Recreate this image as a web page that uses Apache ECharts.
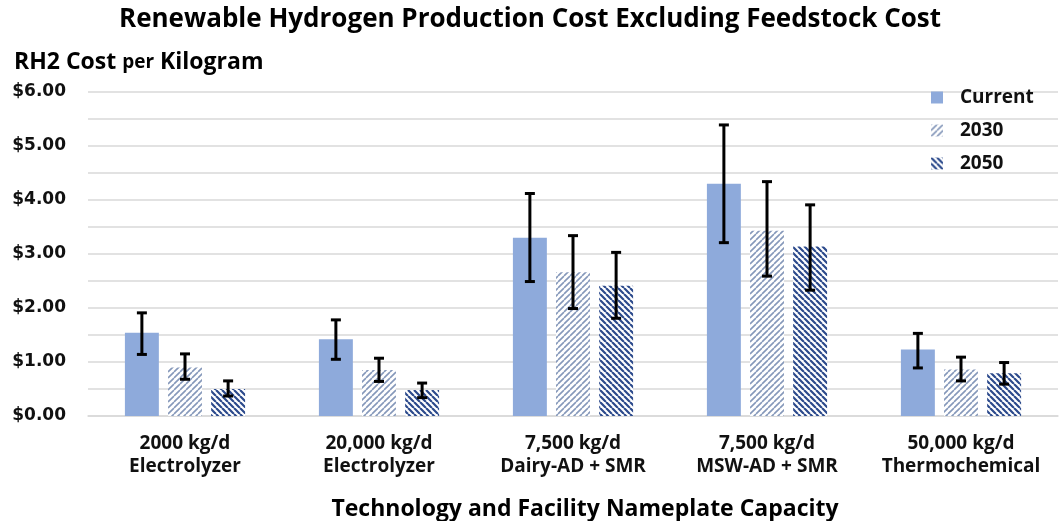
<!DOCTYPE html>
<html>
<head>
<meta charset="utf-8">
<script src="https://cdn.jsdelivr.net/npm/echarts@6/dist/echarts.min.js"></script>
<style>
  html, body { margin: 0; padding: 0; background: #fff; }
  #chart { width: 1060px; height: 521px; }
</style>
</head>
<body>
<div id="chart"></div>
<script>
// ---------- data ----------
const categories = [
  '2000 kg/d\nElectrolyzer',
  '20,000 kg/d\nElectrolyzer',
  '7,500 kg/d\nDairy-AD + SMR',
  '7,500 kg/d\nMSW-AD + SMR',
  '50,000 kg/d\nThermochemical'
];
const seriesNames = ['Current', '2030', '2050'];
const currentCost = [1.54, 1.42, 3.30, 4.30, 1.23];
const cost2030 = [0.90, 0.85, 2.66, 3.43, 0.86];
const cost2050 = [0.50, 0.48, 2.41, 3.14, 0.79];
// error bar ranges (low, high)
const currentLow = [1.14, 1.05, 2.49, 3.21, 0.89];
const currentHigh = [1.91, 1.78, 4.12, 5.39, 1.53];
const low2030 = [0.68, 0.64, 1.99, 2.59, 0.65];
const high2030 = [1.15, 1.07, 3.34, 4.34, 1.09];
const low2050 = [0.37, 0.34, 1.81, 2.33, 0.59];
const high2050 = [0.65, 0.61, 3.03, 3.91, 0.99];

const FONT = '"Open Sans", Lato, sans-serif';
const NUM_FONT = '"DejaVu Sans", sans-serif';
const BAR_W = 0.175;   // bar width as share of category band
const BAR_GAP = 0.27;  // gap between bars as share of bar width

// diagonal hatch tile; dir 1 = "/", -1 = "\"
function hatch(stroke, lw, dir) {
  const s = 6;
  const c = document.createElement('canvas');
  c.width = s; c.height = s;
  const ctx = c.getContext('2d');
  ctx.fillStyle = '#ffffff';
  ctx.fillRect(0, 0, s, s);
  ctx.strokeStyle = stroke;
  ctx.lineWidth = lw;
  ctx.beginPath();
  for (let k = -1; k <= 1; k++) {
    if (dir > 0) {
      ctx.moveTo(k * s, s); ctx.lineTo(k * s + s, 0);
    } else {
      ctx.moveTo(k * s, 0); ctx.lineTo(k * s + s, s);
    }
  }
  ctx.stroke();
  return { image: c, repeat: 'repeat' };
}

const colors = [
  '#8eaadb',
  hatch('#8598ba', 1.6, 1),
  hatch('#2c4a8c', 2.2, -1)
];
const values = [currentCost, cost2030, cost2050];
const lows = [currentLow, low2030, low2050];
const highs = [currentHigh, high2030, high2050];

const chart = echarts.init(document.getElementById('chart'), null, { renderer: 'canvas' });

const barSeries = values.map((v, i) => ({
  name: seriesNames[i],
  type: 'bar',
  data: v,
  barWidth: (BAR_W * 100) + '%',
  barGap: (BAR_GAP * 100) + '%',
  itemStyle: { color: colors[i] },
  z: 2
}));

// error bars drawn next to their bar, offset inside the category band
const errSeries = values.map((v, i) => ({
  type: 'custom',
  name: seriesNames[i] + ' err',
  z: 5,
  silent: true,
  data: v.map((_, j) => [j, lows[i][j], highs[i][j]]),
  renderItem: (params, api) => {
    const band = api.size([1, 0])[0];
    const off = (i - 1) * band * BAR_W * (1 + BAR_GAP);
    const lo = api.coord([api.value(0), api.value(1)]);
    const hi = api.coord([api.value(0), api.value(2)]);
    const x = lo[0] + off;
    const cap = 5;
    const style = { stroke: '#000', lineWidth: 3 };
    return {
      type: 'group',
      children: [
        { type: 'line', shape: { x1: x, y1: lo[1], x2: x, y2: hi[1] }, style },
        { type: 'line', shape: { x1: x - cap, y1: hi[1], x2: x + cap, y2: hi[1] }, style },
        { type: 'line', shape: { x1: x - cap, y1: lo[1], x2: x + cap, y2: lo[1] }, style }
      ]
    };
  }
}));

chart.setOption({
  backgroundColor: '#fff',
  animation: false,
  title: {
    text: 'Renewable Hydrogen Production Cost Excluding Feedstock Cost',
    left: 'center',
    top: 2,
    textStyle: { fontFamily: FONT, fontWeight: 'bold', fontSize: 26, color: '#000' }
  },
  legend: {
    data: seriesNames,
    orient: 'vertical',
    left: 926,
    top: 83,
    itemGap: 14,
    itemWidth: 12,
    itemHeight: 12,
    icon: 'rect',
    textStyle: { fontFamily: FONT, fontWeight: 'bold', fontSize: 19, color: '#111', padding: [0, 0, 0, 12] }
  },
  grid: { left: 88, right: 2, top: 92, bottom: 105, outerBoundsMode: 'none', containLabel: false },
  xAxis: {
    type: 'category',
    data: categories,
    axisTick: { show: false },
    axisLine: { lineStyle: { color: '#d9d9d9', width: 1.5 } },
    axisLabel: {
      interval: 0,
      hideOverlap: false,
      margin: 16,
      fontFamily: FONT, fontWeight: 'bold', fontSize: 19, color: '#111', lineHeight: 23
    },
    name: 'Technology and Facility Nameplate Capacity',
    nameLocation: 'middle',
    nameGap: 82,
    nameTextStyle: { fontFamily: FONT, fontWeight: 'bold', fontSize: 23, color: '#000', padding: [0, 0, 0, 24] }
  },
  yAxis: {
    type: 'value',
    min: 0,
    max: 6,
    interval: 0.5,
    axisLine: { show: false },
    axisTick: { show: false },
    splitLine: { lineStyle: { color: '#d9d9d9', width: 1.5 } },
    axisLabel: {
      margin: 22,
      fontFamily: NUM_FONT, fontWeight: 'bold', fontSize: 17, color: '#111',
      formatter: v => (Math.abs(v - Math.round(v)) < 1e-9 ? '$' + v.toFixed(2) : '')
    },
    name: '{a|RH2 Cost }{b|per}{a| Kilogram}',
    nameLocation: 'end',
    nameGap: 18,
    nameTextStyle: {
      align: 'left',
      padding: [0, 0, 0, -74],
      rich: {
        a: { fontFamily: FONT, fontWeight: 'bold', fontSize: 23, color: '#000' },
        b: { fontFamily: FONT, fontWeight: 'bold', fontSize: 19, color: '#000' }
      }
    }
  },
  series: [...barSeries, ...errSeries]
});
</script>
</body>
</html>
